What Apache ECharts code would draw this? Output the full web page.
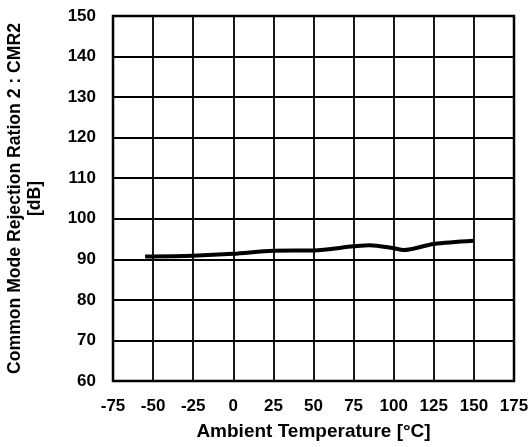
<!DOCTYPE html>
<html>
<head>
<meta charset="utf-8">
<script src="https://cdn.jsdelivr.net/npm/echarts@6/dist/echarts.min.js"></script>
<style>
  html, body { margin: 0; padding: 0; background: #fff; }
  #chart { width: 531px; height: 447px; }
</style>
</head>
<body>
<div id="chart"></div>
<script>
// CMR2 vs ambient temperature
const temperature = [-55, -25, 0, 25, 50, 75, 85, 100, 106, 125, 150];
const cmr2 = [90.7, 90.9, 91.35, 92.1, 92.2, 93.2, 93.5, 92.75, 92.3, 93.8, 94.6];
const xTicks = [-75, -50, -25, 0, 25, 50, 75, 100, 125, 150, 175];
const yTicks = [60, 70, 80, 90, 100, 110, 120, 130, 140, 150];

const font = '"Liberation Sans", Arial, sans-serif';
const chart = echarts.init(document.getElementById('chart'), null, { renderer: 'canvas' });

chart.setOption({
  animation: false,
  backgroundColor: '#fff',
  grid: {
    left: 113, right: 17, top: 16, bottom: 66,
    containLabel: false, outerBoundsMode: 'none',
    show: true, borderColor: '#000', borderWidth: 2.5
  },
  xAxis: {
    type: 'value',
    min: xTicks[0], max: xTicks[xTicks.length - 1], interval: 25,
    name: 'Ambient Temperature [°C]',
    nameLocation: 'middle', nameGap: 41,
    nameTextStyle: { fontFamily: font, fontWeight: 'bold', fontSize: 19, color: '#000' },
    axisLine: { show: false },
    axisTick: { show: false },
    axisLabel: { fontFamily: font, fontWeight: 'bold', fontSize: 17, color: '#000', margin: 17 },
    splitLine: { show: true, lineStyle: { color: '#000', width: 1.8 } }
  },
  yAxis: {
    type: 'value',
    min: yTicks[0], max: yTicks[yTicks.length - 1], interval: 10,
    name: 'Common Mode Rejection Ration 2 : CMR2\n[dB]',
    nameLocation: 'middle', nameGap: 68,
    nameTextStyle: { fontFamily: font, fontWeight: 'bold', fontSize: 17.6, color: '#000', lineHeight: 20 },
    axisLine: { show: false },
    axisTick: { show: false },
    axisLabel: { fontFamily: font, fontWeight: 'bold', fontSize: 17, color: '#000', margin: 17 },
    splitLine: { show: true, lineStyle: { color: '#000', width: 1.8 } }
  },
  series: [{
    type: 'line',
    data: temperature.map((t, i) => [t, cmr2[i]]),
    smooth: 0.3,
    symbol: 'none',
    lineStyle: { color: '#000', width: 4 }
  }]
});
</script>
</body>
</html>
